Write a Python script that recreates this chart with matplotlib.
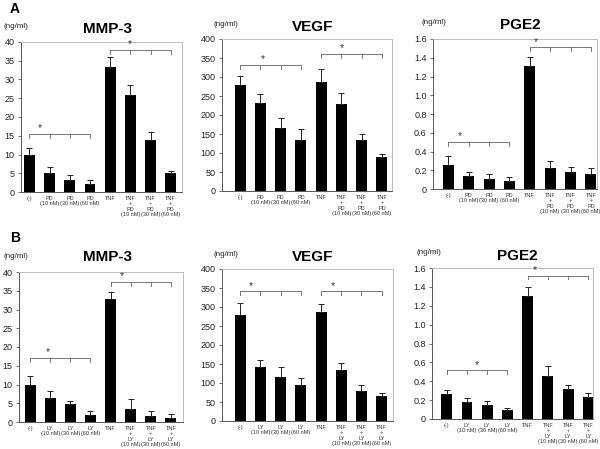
import numpy as np
import matplotlib.pyplot as plt

plt.rcParams['font.family'] = ['Liberation Sans', 'DejaVu Sans']

# x labels
labels_pd = ["(-)", "PD\n(10 nM)", "PD\n(30 nM)", "PD\n(60 nM)", "TNF",
             "TNF\n+\nPD\n(10 nM)", "TNF\n+\nPD\n(30 nM)", "TNF\n+\nPD\n(60 nM)"]
labels_ly = ["(-)", "LY\n(10 nM)", "LY\n(30 nM)", "LY\n(60 nM)", "TNF",
             "TNF\n+\nLY\n(10 nM)", "TNF\n+\nLY\n(30 nM)", "TNF\n+\nLY\n(60 nM)"]

# row A (PD)
mmp3_pd = [9.9, 5.0, 3.1, 2.1, 33.3, 25.8, 13.8, 5.0]
mmp3_pd_err = [1.8, 1.6, 1.4, 1.0, 2.7, 2.7, 2.3, 0.6]
vegf_pd = [278, 232, 166, 133, 287, 230, 133, 89]
vegf_pd_err = [25, 23, 26, 29, 34, 27, 17, 8]
pge2_pd = [0.26, 0.135, 0.11, 0.09, 1.31, 0.22, 0.18, 0.16]
pge2_pd_err = [0.09, 0.045, 0.05, 0.04, 0.10, 0.08, 0.05, 0.06]

# row B (LY)
mmp3_ly = [10.0, 6.4, 4.7, 2.0, 32.7, 3.6, 1.7, 1.1]
mmp3_ly_err = [2.4, 2.0, 1.0, 1.0, 2.0, 2.6, 1.3, 1.0]
vegf_ly = [279, 142, 116, 94, 286, 134, 79, 67]
vegf_ly_err = [31, 19, 27, 19, 23, 19, 17, 8]
pge2_ly = [0.265, 0.177, 0.145, 0.095, 1.30, 0.46, 0.32, 0.23]
pge2_ly_err = [0.045, 0.045, 0.05, 0.025, 0.095, 0.105, 0.045, 0.05]

# brackets: (first bar, last bar, height, star x)
brk_mmp3_pd = [(0, 3, 15.4, 0.5), (4, 7, 37.9, 5.0)]
brk_vegf_pd = [(0, 3, 332, 1.1), (4, 7, 360, 5.0)]
brk_pge2_pd = [(0, 3, 0.50, 0.55), (4, 7, 1.51, 4.3)]
brk_mmp3_ly = [(0, 3, 17.1, 0.9), (4, 7, 37.3, 4.55)]
brk_vegf_ly = [(0, 3, 341, 0.55), (4, 7, 341, 4.6)]
brk_pge2_ly = [(0, 3, 0.516, 1.5), (4, 7, 1.52, 4.35)]

W, H = 600, 449
fig = plt.figure(figsize=(6, 4.49), dpi=100)


def px_axes(l, t, r, b):
    return fig.add_axes([l / W, 1 - b / H, (r - l) / W, (b - t) / H])


def panel(rect, vals, errs, labels, ymax, step, fmt, brackets, xlim, title, title_xy, unit_xy):
    ax = px_axes(*rect)
    x = np.arange(len(vals))
    ax.bar(x, vals, width=0.54, color='black', zorder=2)
    ax.errorbar(x, vals, yerr=[np.zeros(len(errs)), errs], fmt='none', ecolor='#222',
                elinewidth=0.7, capsize=2, capthick=0.7, zorder=3)
    ax.set_xlim(*xlim)
    ax.set_ylim(0, ymax)
    ticks = np.arange(0, ymax + step / 2, step)
    ax.set_yticks(ticks)
    ax.set_yticklabels([fmt(t) for t in ticks], fontsize=6.5, color='#222')
    ax.set_xticks(x)
    ax.set_xticklabels(labels, fontsize=4.0, color='#333', linespacing=1.05)
    ax.tick_params(axis='x', length=0, pad=3)
    ax.tick_params(axis='y', length=2.5, width=0.6, color='#555', pad=2)
    for s in ['left', 'bottom']:
        ax.spines[s].set_color('#555')
        ax.spines[s].set_linewidth(0.7)
    for s in ['top', 'right']:
        ax.spines[s].set_color('#bbb')
        ax.spines[s].set_linewidth(0.7)
    tl = ymax * 0.025
    for i0, i1, h, sx in brackets:
        ax.plot([i0, i1], [h, h], color='#777', lw=0.7, zorder=4)
        for xi in range(i0, i1 + 1):
            ax.plot([xi, xi], [h, h - tl], color='#777', lw=0.7, zorder=4)
        ax.annotate('*', (sx, h), xytext=(0, 0.5), textcoords='offset points',
                    ha='center', va='bottom', fontsize=7.5, color='#333')
    fig.text(title_xy[0] / W, 1 - title_xy[1] / H, title, fontsize=11, fontweight='bold',
             ha='center', va='center')
    fig.text(unit_xy[0] / W, 1 - unit_xy[1] / H, '(ng/ml)', fontsize=5.8,
             ha='left', va='center', color='#222')
    return ax


int_fmt = lambda v: '%d' % v
dec_fmt = lambda v: '0' if v == 0 else '%.1f' % v

panel((21, 42, 182, 192), mmp3_pd, mmp3_pd_err, labels_pd, 40, 5, int_fmt, brk_mmp3_pd,
      (-0.42, 7.56), 'MMP-3', (108, 29), (3, 26))
panel((222, 39, 392, 191), vegf_pd, vegf_pd_err, labels_pd, 400, 50, int_fmt, brk_vegf_pd,
      (-0.9, 7.5), 'VEGF', (313, 27), (213, 24))
panel((433, 39, 597, 189), pge2_pd, pge2_pd_err, labels_pd, 1.6, 0.2, dec_fmt, brk_pge2_pd,
      (-0.75, 7.3), 'PGE2', (520, 25), (421, 23))
panel((19, 272, 183, 422), mmp3_ly, mmp3_ly_err, labels_ly, 40, 5, int_fmt, brk_mmp3_ly,
      (-0.55, 7.6), 'MMP-3', (108, 257), (3, 257))
panel((222, 269, 393, 421), vegf_ly, vegf_ly_err, labels_ly, 400, 50, int_fmt, brk_vegf_ly,
      (-0.9, 7.56), 'VEGF', (313, 257), (213, 254))
panel((432, 268, 593, 419), pge2_ly, pge2_ly_err, labels_ly, 1.6, 0.2, dec_fmt, brk_pge2_ly,
      (-0.73, 7.23), 'PGE2', (517, 256), (417, 252))

fig.text(15 / W, 1 - 9 / H, 'A', fontsize=10, fontweight='bold', ha='center', va='center')
fig.text(15 / W, 1 - 238 / H, 'B', fontsize=10, fontweight='bold', ha='center', va='center')

fig.savefig('out.png', dpi=100)
